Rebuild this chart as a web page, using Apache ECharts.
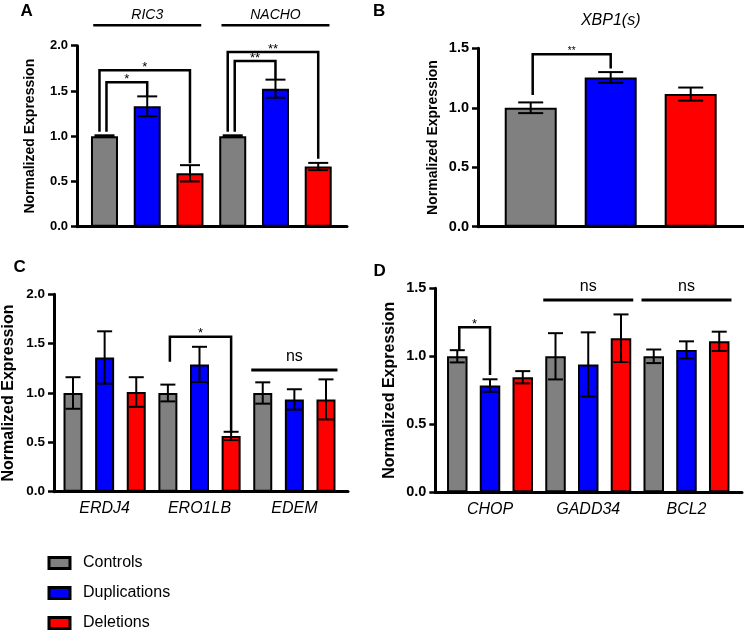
<!DOCTYPE html>
<html><head><meta charset="utf-8">
<script src="https://cdn.jsdelivr.net/npm/echarts@6/dist/echarts.min.js"></script>
<style>html,body{margin:0;padding:0;background:#fff}#c{width:744px;height:634px}</style>
</head><body><div id="c"></div>
<script>
// ---------- data ----------
const seriesNames = ['Controls', 'Duplications', 'Deletions'];
const yAxisTitle = 'Normalized Expression';

// Panel A
const catsA = ['RIC3', 'NACHO'];
const ctrlA = [1.00, 1.00],  ctrlErrA = [0.01, 0.01];
const dupA  = [1.33, 1.525], dupErrA  = [0.11, 0.10];
const delA  = [0.59, 0.665], delErrA  = [0.09, 0.04];
// bracket: [cat1, series1, cat2, series2, yTop, yLeftEnd, yRightEnd, nestLevel, label]
const sigA = [
  [0, 0, 0, 1, 1.595, 1.05, 1.44, 0, '*'],
  [0, 0, 0, 2, 1.73, 1.05, 0.70, 1, '*'],
  [1, 0, 1, 1, 1.83, 1.05, 1.62, 0, '**'],
  [1, 0, 1, 2, 1.93, 1.05, 0.75, 1, '**']
];
const headerA = [[0, 2.225], [1, 2.225]];

// Panel B
const catsB = ['XBP1(s)'];
const ctrlB = [1.00],  ctrlErrB = [0.045];
const dupB  = [1.255], dupErrB  = [0.045];
const delB  = [1.115], delErrB  = [0.055];
const sigB = [[0, 0, 0, 1, 1.45, 1.108, 1.33, 0, '**']];

// Panel C
const catsC = ['ERDJ4', 'ERO1LB', 'EDEM'];
const ctrlC = [1.00, 1.00, 1.00],  ctrlErrC = [0.16, 0.085, 0.108];
const dupC  = [1.36, 1.29, 0.935], dupErrC  = [0.265, 0.178, 0.103];
const delC  = [1.01, 0.565, 0.935], delErrC = [0.15, 0.042, 0.203];
const sigC = [[1, 0, 1, 2, 1.57, 1.317, 0.598, 0, '*']];
const nsC = [[2, 1.233, 'ns']];

// Panel D
const catsD = ['CHOP', 'GADD34', 'BCL2'];
const ctrlD = [1.00, 1.00, 1.00],  ctrlErrD = [0.045, 0.17, 0.05];
const dupD  = [0.785, 0.94, 1.047], dupErrD = [0.046, 0.236, 0.063];
const delD  = [0.846, 1.133, 1.11], delErrD = [0.045, 0.175, 0.071];
const sigD = [[0, 0, 0, 1, 1.213, 1.046, 0.862, 0, '*']];
const nsD = [[1, 1.414, 'ns'], [2, 1.414, 'ns']];

// ---------- styling / layout ----------
const FONT = '"Liberation Sans", Arial, sans-serif';
const colors = ['#808080', '#0000ff', '#ff0000'];

const panels = [
  { cats: catsA, vals: [ctrlA, dupA, delA], errs: [ctrlErrA, dupErrA, delErrA], sig: sigA, ns: [], header: headerA,
    yMax: 2, top: 45.7, height: 181, frame: [77, 270], data: [83.1, 256.5], barW: 27, cap: 20,
    catPos: 'top', catFont: 14, catMargin: 23.5, tickFont: 13, nameFont: 14, nameGap: 40, starFont: 13 },
  { cats: catsB, vals: [ctrlB, dupB, delB], errs: [ctrlErrB, dupErrB, delErrB], sig: sigB, ns: [], header: [],
    yMax: 1.5, top: 48.3, height: 178.4, frame: [478, 266], data: [490.7, 240], barW: 52, cap: 25,
    catPos: 'top', catFont: 16, catMargin: 20, tickFont: 14.5, nameFont: 14, nameGap: 38, starFont: 10 },
  { cats: catsC, vals: [ctrlC, dupC, delC], errs: [ctrlErrC, dupErrC, delErrC], sig: sigC, ns: nsC, header: [],
    yMax: 2, top: 294.3, height: 197.4, frame: [52.3, 295.7], data: [57.2, 284.6], barW: 19, cap: 15,
    catPos: 'bottom', catFont: 16, catMargin: 9, tickFont: 13.5, nameFont: 16, nameGap: 37, starFont: 13 },
  { cats: catsD, vals: [ctrlD, dupD, delD], errs: [ctrlErrD, dupErrD, delErrD], sig: sigD, ns: nsD, header: [],
    yMax: 1.5, top: 288.3, height: 204, frame: [435.3, 306.7], data: [440.9, 294.7], barW: 20.5, cap: 15,
    catPos: 'bottom', catFont: 16, catMargin: 9, tickFont: 14.5, nameFont: 16, nameGap: 38, starFont: 13 }
];

const grids = [], xAxes = [], yAxes = [], series = [];

panels.forEach(function (p, pi) {
  const fg = grids.length, dg = fg + 1;
  grids.push({ left: p.frame[0], top: p.top, width: p.frame[1], height: p.height });
  grids.push({ left: p.data[0], top: p.top, width: p.data[1], height: p.height });
  const axLine = { show: true, lineStyle: { color: '#000', width: 3 } };
  xAxes.push({ gridIndex: fg, type: 'value', min: 0, max: 1, axisLine: axLine,
    axisTick: { show: false }, axisLabel: { show: false }, splitLine: { show: false } });
  yAxes.push({ gridIndex: fg, type: 'value', min: 0, max: p.yMax, interval: 0.5,
    name: yAxisTitle, nameLocation: 'middle', nameRotate: 90, nameGap: p.nameGap,
    nameTextStyle: { fontFamily: FONT, fontWeight: 'bold', fontSize: p.nameFont, color: '#000' },
    axisLine: axLine,
    axisTick: { show: true, length: 6, lineStyle: { color: '#000', width: 2.5 } },
    axisLabel: { margin: 9, color: '#000', fontFamily: FONT, fontWeight: 'bold', fontSize: p.tickFont,
      formatter: function (v) { return v.toFixed(1); } },
    splitLine: { show: false } });
  xAxes.push({ gridIndex: dg, type: 'category', data: p.cats, position: p.catPos,
    axisLine: { show: false }, axisTick: { show: false }, splitLine: { show: false },
    axisLabel: { color: '#000', fontFamily: FONT, fontStyle: 'italic', fontSize: p.catFont, margin: p.catMargin } });
  yAxes.push({ gridIndex: dg, type: 'value', min: 0, max: p.yMax, show: false });

  const gap = Math.round((p.data[1] / p.cats.length / 3 / p.barW - 1) * 1000) / 10 + '%';
  for (let k = 0; k < 3; k++) {
    series.push({ type: 'bar', name: seriesNames[k], xAxisIndex: dg, yAxisIndex: dg,
      data: p.vals[k], barWidth: p.barW, barGap: gap,
      itemStyle: { color: colors[k], borderColor: '#000', borderWidth: 2 },
      emphasis: { disabled: true }, z: 2 });
  }
  // error bars
  const errData = [];
  for (let k = 0; k < 3; k++) for (let i = 0; i < p.cats.length; i++)
    errData.push([i, p.vals[k][i], p.errs[k][i], k]);
  series.push({ type: 'custom', xAxisIndex: dg, yAxisIndex: dg, z: 5, silent: true,
    encode: { x: 0, y: 1 }, data: errData,
    renderItem: function (params, api) {
      const c = api.value(0), v = api.value(1), e = api.value(2), k = api.value(3);
      const band = api.size([1, 0])[0];
      const x = api.coord([c, v])[0] + (k - 1) * band / 3;
      const yt = api.coord([c, v + e])[1], yb = api.coord([c, v - e])[1];
      const h = p.cap / 2;
      const st = { stroke: '#000', lineWidth: 2 };
      return { type: 'group', children: [
        { type: 'line', shape: { x1: x, y1: yt, x2: x, y2: yb }, style: st },
        { type: 'line', shape: { x1: x - h, y1: yt, x2: x + h, y2: yt }, style: st },
        { type: 'line', shape: { x1: x - h, y1: yb, x2: x + h, y2: yb }, style: st }
      ] };
    } });
  // significance brackets
  if (p.sig.length) series.push({ type: 'custom', xAxisIndex: dg, yAxisIndex: dg, z: 6, silent: true, clip: false,
    encode: { x: 0, y: 1 }, data: p.sig.map(function (b) { return [b[0], b[4]]; }),
    renderItem: function (params, api) {
      const b = p.sig[params.dataIndex];
      const band = api.size([1, 0])[0];
      const lvlShift = b[7] ? -5 : 2;
      const x1 = api.coord([b[0], 0])[0] + (b[1] - 1) * band / 3 + lvlShift;
      const x2 = api.coord([b[2], 0])[0] + (b[3] - 1) * band / 3;
      const yT = api.coord([0, b[4]])[1], yL = api.coord([0, b[5]])[1], yR = api.coord([0, b[6]])[1];
      return { type: 'group', children: [
        { type: 'polyline', shape: { points: [[x1, yL], [x1, yT], [x2, yT], [x2, yR]] },
          style: { stroke: '#000', lineWidth: 2.5, fill: null, lineJoin: 'miter' } },
        { type: 'text', style: { text: b[8], x: (x1 + x2) / 2, y: yT - 3, align: 'center', verticalAlign: 'middle',
          fontSize: p.starFont, fontFamily: FONT, fill: '#000' } }
      ] };
    } });
  // ns lines
  if (p.ns.length) series.push({ type: 'custom', xAxisIndex: dg, yAxisIndex: dg, z: 6, silent: true, clip: false,
    encode: { x: 0, y: 1 }, data: p.ns.map(function (n) { return [n[0], n[1]]; }),
    renderItem: function (params, api) {
      const n = p.ns[params.dataIndex];
      const band = api.size([1, 0])[0];
      const cx = api.coord([n[0], n[1]])[0], y = api.coord([n[0], n[1]])[1];
      const h = band / 3 + p.barW / 2 + 2;
      return { type: 'group', children: [
        { type: 'line', shape: { x1: cx - h, y1: y, x2: cx + h, y2: y }, style: { stroke: '#000', lineWidth: 3 } },
        { type: 'text', style: { text: n[2], x: cx, y: y - 13, align: 'center', verticalAlign: 'middle',
          fontSize: 16, fontFamily: FONT, fill: '#000' } }
      ] };
    } });
  // header lines (panel A)
  if (p.header.length) series.push({ type: 'custom', xAxisIndex: dg, yAxisIndex: dg, z: 6, silent: true, clip: false,
    encode: { x: 0, y: 1 }, data: p.header,
    renderItem: function (params, api) {
      const pt = api.coord([api.value(0), api.value(1)]);
      const h = 54;
      return { type: 'line', shape: { x1: pt[0] - h, y1: pt[1], x2: pt[0] + h, y2: pt[1] },
        style: { stroke: '#000', lineWidth: 2.5 } };
    } });
});

const letter = function (t, x, y) {
  return { type: 'text', left: x, top: y, style: { text: t, fontSize: 17, fontWeight: 'bold', fontFamily: FONT, fill: '#000' } };
};

const option = {
  animation: false,
  backgroundColor: '#fff',
  grid: grids, xAxis: xAxes, yAxis: yAxes, series: series,
  legend: { data: seriesNames, orient: 'vertical', left: 47.5, top: 555, padding: 0, height: 79,
    itemWidth: 21, itemHeight: 11, itemGap: 14,
    icon: 'rect', selectedMode: false,
    itemStyle: { borderColor: '#000', borderWidth: 3 },
    textStyle: { fontFamily: FONT, fontSize: 16, color: '#000', padding: [0, 0, 0, 8] } },
  graphic: [letter('A', 20.5, 3), letter('B', 373, 3), letter('C', 13.5, 259), letter('D', 373.5, 263)]
};
echarts.init(document.getElementById('c'), null, { renderer: 'canvas' }).setOption(option);
</script></body></html>
